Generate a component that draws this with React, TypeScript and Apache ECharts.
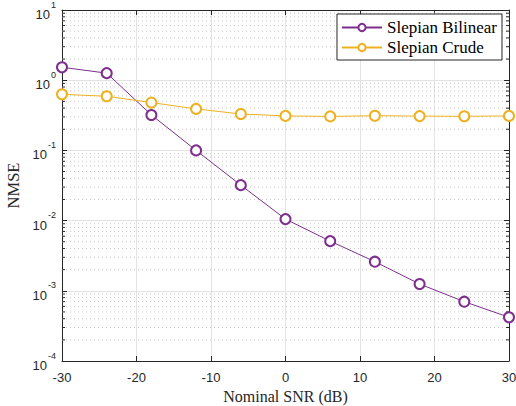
import React, { useEffect, useRef } from "react";
import * as echarts from "echarts";

const snr = [-30, -24, -18, -12, -6, 0, 6, 12, 18, 24, 30];
const bilinear = [1.53, 1.26, 0.32, 0.1, 0.032, 0.0105, 0.0051, 0.0026, 0.00125, 0.0007, 0.00042];
const crude = [0.63, 0.59, 0.48, 0.39, 0.33, 0.31, 0.305, 0.312, 0.308, 0.306, 0.31];
const decades = [-4, -3, -2, -1, 0];
const minorMultipliers = [2, 3, 4, 5, 6, 7, 8, 9];

const AX = "#262626";
const SERIF = "Liberation Serif";
const SANS = "Liberation Sans";

export default function App() {
  const ref = useRef<HTMLDivElement>(null);
  useEffect(() => {
    if (!ref.current) return;
    const chart = echarts.init(ref.current, undefined, { renderer: "svg" });
    const minorData: number[][] = [];
    decades.forEach((d) => minorMultipliers.forEach((m) => minorData.push([snr[0], m * Math.pow(10, d)])));
    const supLabel = (v: number) => `{b|10}{s|${Math.round(Math.log10(v))}}`;
    const rich = {
      b: { fontSize: 13, color: AX, fontFamily: SANS, lineHeight: 22, verticalAlign: "bottom" },
      s: { fontSize: 9, color: AX, fontFamily: SANS, lineHeight: 22, verticalAlign: "top", padding: [1, 0, 0, 1] },
    };
    chart.setOption({
      animation: false,
      backgroundColor: "#fff",
      grid: { left: 62, right: 7, top: 10, bottom: 45, containLabel: false, outerBoundsMode: "none" },
      legend: {
        data: ["Slepian Bilinear", "Slepian Crude"],
        orient: "vertical",
        right: 14,
        top: 14,
        itemWidth: 40,
        itemHeight: 9,
        itemGap: 3,
        padding: [5, 5, 4, 4],
        borderColor: AX,
        borderWidth: 1,
        borderRadius: 0,
        backgroundColor: "#fff",
        textStyle: { fontFamily: SERIF, fontSize: 17, color: "#000" },
      },
      xAxis: [
        {
          type: "value",
          min: -30,
          max: 30,
          interval: 10,
          name: "Nominal SNR (dB)",
          nameLocation: "middle",
          nameGap: 27,
          nameTextStyle: { fontFamily: SERIF, fontSize: 16, color: AX },
          axisLine: { show: true, onZero: false, lineStyle: { color: AX, width: 1 } },
          axisTick: { show: true, inside: true, length: 5, lineStyle: { color: AX } },
          axisLabel: { color: AX, fontSize: 13, fontFamily: SANS, margin: 10 },
          splitLine: { show: true, lineStyle: { color: "#e3e3e3", width: 1 } },
        },
        {
          type: "value",
          position: "top",
          min: -30,
          max: 30,
          interval: 10,
          axisLine: { show: true, onZero: false, lineStyle: { color: AX, width: 1 } },
          axisTick: { show: true, inside: true, length: 5, lineStyle: { color: AX } },
          axisLabel: { show: false },
          splitLine: { show: false },
        },
      ],
      yAxis: [
        {
          type: "log",
          logBase: 10,
          min: 1e-4,
          max: 10,
          name: "NMSE",
          nameLocation: "middle",
          nameGap: 40,
          nameTextStyle: { fontFamily: SERIF, fontSize: 16.5, color: AX },
          axisLine: { show: true, onZero: false, lineStyle: { color: AX, width: 1 } },
          axisTick: { show: true, inside: true, length: 5, lineStyle: { color: AX } },
          axisLabel: { formatter: supLabel, rich, margin: 6 },
          splitLine: { show: true, lineStyle: { color: "#e3e3e3", width: 1 } },
        },
        {
          type: "log",
          logBase: 10,
          min: 1e-4,
          max: 10,
          position: "right",
          axisLine: { show: true, onZero: false, lineStyle: { color: AX, width: 1 } },
          axisTick: { show: true, inside: true, length: 5, lineStyle: { color: AX } },
          axisLabel: { show: false },
          splitLine: { show: false },
        },
      ],
      series: [
        {
          type: "custom",
          name: "minor",
          silent: true,
          z: 1,
          data: minorData,
          encode: { x: 0, y: 1 },
          renderItem: (params: any, api: any) => {
            const cs = params.coordSys;
            const y = api.coord([api.value(0), api.value(1)])[1];
            return {
              type: "group",
              children: [
                {
                  type: "line",
                  shape: { x1: cs.x, y1: y, x2: cs.x + cs.width, y2: y },
                  style: { stroke: "#c8c8c8", lineWidth: 1, lineDash: [1, 3] },
                },
                {
                  type: "line",
                  shape: { x1: cs.x, y1: y, x2: cs.x + 3, y2: y },
                  style: { stroke: AX, lineWidth: 1 },
                },
                {
                  type: "line",
                  shape: { x1: cs.x + cs.width - 3, y1: y, x2: cs.x + cs.width, y2: y },
                  style: { stroke: AX, lineWidth: 1 },
                },
              ],
            };
          },
        },
        {
          type: "line",
          name: "Slepian Bilinear",
          data: snr.map((x, i) => [x, bilinear[i]]),
          symbol: "emptyCircle",
          symbolSize: 10,
          z: 3,
          lineStyle: { color: "#7E2F8E", width: 1 },
          itemStyle: { color: "#7E2F8E", borderColor: "#7E2F8E", borderWidth: 1 },
        },
        {
          type: "line",
          name: "Slepian Crude",
          data: snr.map((x, i) => [x, crude[i]]),
          symbol: "emptyCircle",
          symbolSize: 10,
          z: 3,
          lineStyle: { color: "#EDB120", width: 1 },
          itemStyle: { color: "#EDB120", borderColor: "#EDB120", borderWidth: 1 },
        },
      ],
    });
    return () => chart.dispose();
  }, []);
  return <div ref={ref} style={{ width: 516, height: 406, position: "absolute", left: 0, top: 0 }} />;
}
